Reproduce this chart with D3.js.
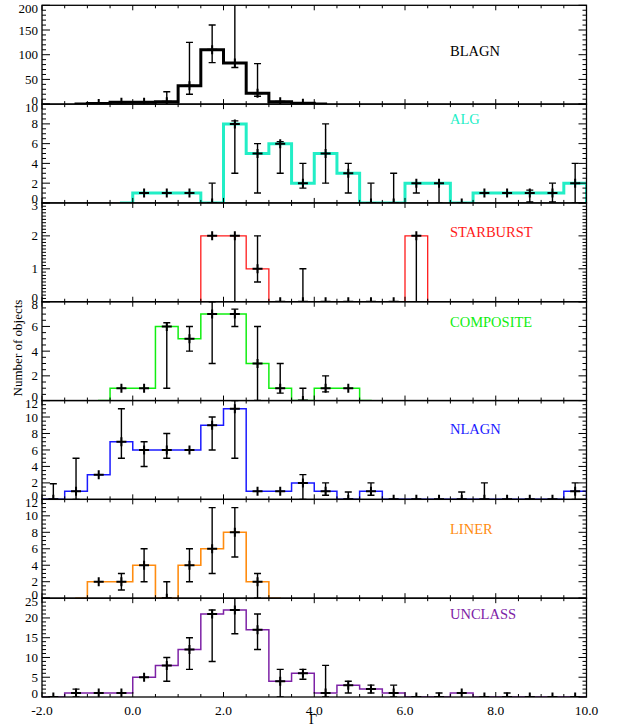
<!DOCTYPE html>
<html>
<head>
<meta charset="utf-8">
<script src="https://cdn.jsdelivr.net/npm/d3@7"></script>
<style>
  html, body { margin: 0; padding: 0; background: #fff; }
  svg { display: block; }
  text { font-family: "Liberation Serif", "Times New Roman", serif; }
</style>
</head>
<body>
<svg id="chart" width="618" height="727"></svg>
<script>
// ---------------- DATA ----------------
// x tick labels (Gamma)
const xTickValues = [-2, 0, 2, 4, 6, 8, 10];
const binWidth = 0.5;

// Each class: first real bin centre, counts per bin, error-bar low / high ends
const blagnStart = -0.75;
const blagnCounts = [1, 4, 4, 5, 37, 110, 83, 22, 5, 2];
const blagnLo     = [1, 4, 4, 5, 20, 84, 74, 16, 5, 2];
const blagnHi     = [1, 4, 4, 25, 125, 160, 215, 82, 5, 2];

const algStart = 0.25;
const algCounts = [1, 1, 1, 0, 8, 5, 6, 2, 5, 3, 0, 0, 2, 2, 0, 1, 1, 1, 1, 2];
const algLo     = [1, 1, 1, 0, 3, 1, 3, 1.5, 2, 1, 0, 0, 1, 0, 0, 1, 1, 0.1, 0.1, 0];
const algHi     = [1, 1, 1, 2, 8.3, 6, 6.2, 4, 8, 4, 2, 3, 2, 2, 0, 1, 1, 1.3, 2, 4];

const sbStart = 1.75;
const sbCounts = [2, 2, 1, 0, 0, 0, 0, 0, 0, 2];
const sbLo     = [2, 0, 0.6, 0, 0, 0, 0, 0, 0, 0];
const sbHi     = [2, 2, 2, 0, 1, 0, 0, 0, 0, 2];

const compStart = -0.25;
const compCounts = [1, 1, 6, 5, 7, 7, 3, 1, 0, 1, 1];
const compLo     = [1, 1, 1, 4, 3, 6, 0, 0.6, 0, 0.7, 1];
const compHi     = [1, 1, 6.3, 6, 8, 7.4, 6, 3, 1, 2, 1];

const nlStart = -1.75;
const nlCounts = [0, 1, 3, 7, 6, 6, 6, 9, 11, 1, 1, 2, 1, 0, 1, 0, 0, 0, 0, 0, 0, 0, 0, 1];
const nlLo     = [0, 0, 3, 5, 4, 5, 6, 6, 5, 1, 1, 0, 0.5, 0, 0.5, 0, 0, 0, 0, 0, 0, 0, 0, 0];
const nlHi     = [1.9, 5, 3, 11, 7, 8, 6, 10, 12, 1, 1, 3, 2, 0.9, 2, 0, 0, 0, 0.9, 2, 0, 0, 0, 2];

const linStart = -0.75;
const linCounts = [2, 2, 4, 0, 4, 6, 8, 2];
const linLo     = [2, 1, 2, 0, 2, 3, 5, 0];
const linHi     = [2, 3, 6, 2, 6, 11, 11, 3];

const unStart = -1.75;
const unCounts = [0, 1, 1, 1, 5, 8, 12, 21, 22, 17, 4, 6, 1, 3, 2, 1, 0, 0, 1, 0, 0, 0, 0, 0];
const unLo     = [0, 0, 1, 1, 5, 4, 7, 9, 16, 12, 0, 4.5, 0, 1, 1, 0, 0, 0, 1, 0, 0, 0, 0, 0];
const unHi     = [0, 2, 1, 1, 5, 10, 15, 22, 25, 21, 7, 7, 8, 4, 3, 3, 0, 1, 1, 0, 1, 0, 0, 0];

// class names and y-axis ranges
const classNames = ["BLAGN", "ALG", "STARBURST", "COMPOSITE", "NLAGN", "LINER", "UNCLASS"];
const yMaxes  = [200, 10, 3, 8, 12, 12, 25];
const yMajors = [50, 2, 1, 2, 2, 2, 5];
const yMinors = [10, 0.5, 0.1, 0.5, 0.5, 0.5, 1];

// ---------------- LAYOUT / STYLE ----------------
const panels = [
  {start: blagnStart, counts: blagnCounts, lo: blagnLo, hi: blagnHi, color: "#000000", lw: 3},
  {start: algStart, counts: algCounts, lo: algLo, hi: algHi, color: "#22eec6", lw: 3},
  {start: sbStart, counts: sbCounts, lo: sbLo, hi: sbHi, color: "#ff1a1a", lw: 1.3},
  {start: compStart, counts: compCounts, lo: compLo, hi: compHi, color: "#11ee11", lw: 1.5},
  {start: nlStart, counts: nlCounts, lo: nlLo, hi: nlHi, color: "#1a1aff", lw: 1.5},
  {start: linStart, counts: linCounts, lo: linLo, hi: linHi, color: "#ff8c10", lw: 1.6},
  {start: unStart, counts: unCounts, lo: unLo, hi: unHi, color: "#7d22a6", lw: 1.5}
];
const labelOffsets = [46, 15, 29, 20, 28, 30, 16];

const L = 42, R = 586.5, T = 5.3, B = 697;
const nP = panels.length;
const ph = (B - T) / nP;

const svg = d3.select("#chart");
const x = d3.scaleLinear().domain([-2, 10]).range([L, R]);
const xMinorTicks = d3.range(-2, 10 + 1e-9, 0.5);

const FONT = "13px";

panels.forEach((p, i) => {
  const top = T + i * ph, bot = top + ph;
  const y = d3.scaleLinear().domain([0, yMaxes[i]]).range([bot, top]);
  const g = svg.append("g");

  const clipId = "clip" + i;
  svg.append("clipPath").attr("id", clipId)
    .append("rect").attr("x", L).attr("y", top).attr("width", R - L).attr("height", ph);

  const pg = g.append("g").attr("clip-path", `url(#${clipId})`);

  // histogram points including zero padding bins at both ends
  const n = p.counts.length;
  const centres = p.counts.map((c, k) => p.start + k * binWidth);
  const pts = [[p.start - binWidth, 0]]
    .concat(p.counts.map((c, k) => [centres[k], c]))
    .concat([[p.start + n * binWidth, 0]]);

  const line = d3.line().x(d => x(d[0])).y(d => y(d[1])).curve(d3.curveStep);
  pg.append("path").attr("d", line(pts)).attr("fill", "none")
    .attr("stroke", p.color).attr("stroke-width", p.lw)
    .attr("stroke-linejoin", "miter").attr("stroke-linecap", "square");

  // error bars
  const eb = pg.append("g").attr("stroke", "#000").attr("stroke-width", 1.4);
  p.counts.forEach((c, k) => {
    const cx = x(centres[k]);
    const lo = p.lo[k], hi = p.hi[k];
    if (hi > lo) {
      eb.append("line").attr("x1", cx).attr("x2", cx).attr("y1", y(lo)).attr("y2", y(hi));
      if (lo < c) eb.append("line").attr("x1", cx - 3.5).attr("x2", cx + 3.5).attr("y1", y(lo)).attr("y2", y(lo));
      if (hi > c) eb.append("line").attr("x1", cx - 3.5).attr("x2", cx + 3.5).attr("y1", y(hi)).attr("y2", y(hi));
    }
    // plus marker at value
    eb.append("line").attr("x1", cx - 5).attr("x2", cx + 5).attr("y1", y(c)).attr("y2", y(c)).attr("stroke-width", 2);
    eb.append("line").attr("x1", cx).attr("x2", cx).attr("y1", y(c) - 4.5).attr("y2", y(c) + 4.5).attr("stroke-width", 2);
  });

  // frame
  g.append("rect").attr("x", L).attr("y", top).attr("width", R - L).attr("height", ph)
    .attr("fill", "none").attr("stroke", "#000").attr("stroke-width", 1.3);

  const tk = g.append("g").attr("stroke", "#000").attr("stroke-width", 1);
  // x ticks (top and bottom, inward)
  xMinorTicks.forEach(v => {
    const major = Math.abs(v / 2 - Math.round(v / 2)) < 1e-9;
    const len = major ? 5 : 3;
    tk.append("line").attr("x1", x(v)).attr("x2", x(v)).attr("y1", bot).attr("y2", bot - len);
    tk.append("line").attr("x1", x(v)).attr("x2", x(v)).attr("y1", top).attr("y2", top + len);
  });
  // y ticks (left and right, inward)
  const yMinorVals = d3.range(0, yMaxes[i] + 1e-9, yMinors[i]);
  yMinorVals.forEach(v => {
    const r = v / yMajors[i];
    const major = Math.abs(r - Math.round(r)) < 1e-6;
    const len = major ? 8 : 4;
    tk.append("line").attr("x1", L).attr("x2", L + len).attr("y1", y(v)).attr("y2", y(v));
    tk.append("line").attr("x1", R).attr("x2", R - len).attr("y1", y(v)).attr("y2", y(v));
  });
  // y labels (bottom one nudged up, top one nudged down, as in the original)
  const yMajorVals = d3.range(0, yMaxes[i] + 1e-9, yMajors[i]);
  yMajorVals.forEach(v => {
    const shift = v === 0 ? -4 : (Math.abs(v - yMaxes[i]) < 1e-9 ? 3 : 0);
    g.append("text").attr("x", L - 4).attr("y", y(v) + shift).attr("dy", "0.35em")
      .attr("text-anchor", "end").attr("font-size", FONT).attr("fill", "#000").text(String(v));
  });

  // class label
  g.append("text").attr("x", 450).attr("y", top + labelOffsets[i]).attr("dy", "0.35em")
    .attr("font-size", "14.5px").attr("fill", p.color).text(classNames[i]);

  // x labels on bottom panel
  if (i === nP - 1) {
    xTickValues.forEach(v => {
      g.append("text").attr("x", x(v)).attr("y", bot + 13).attr("dy", "0.35em")
        .attr("text-anchor", "middle").attr("font-size", "13.5px").attr("fill", "#000")
        .text(v.toFixed(1));
    });
  }
});

// axis titles
svg.append("text").attr("x", 313).attr("y", 719).attr("dy", "0.35em").attr("text-anchor", "middle")
  .attr("font-size", "14px").text("Γ");
svg.append("text").attr("transform", "translate(17,348) rotate(-90)").attr("dy", "0.35em")
  .attr("text-anchor", "middle").attr("font-size", "13px").text("Number of objects");
</script>
</body>
</html>
